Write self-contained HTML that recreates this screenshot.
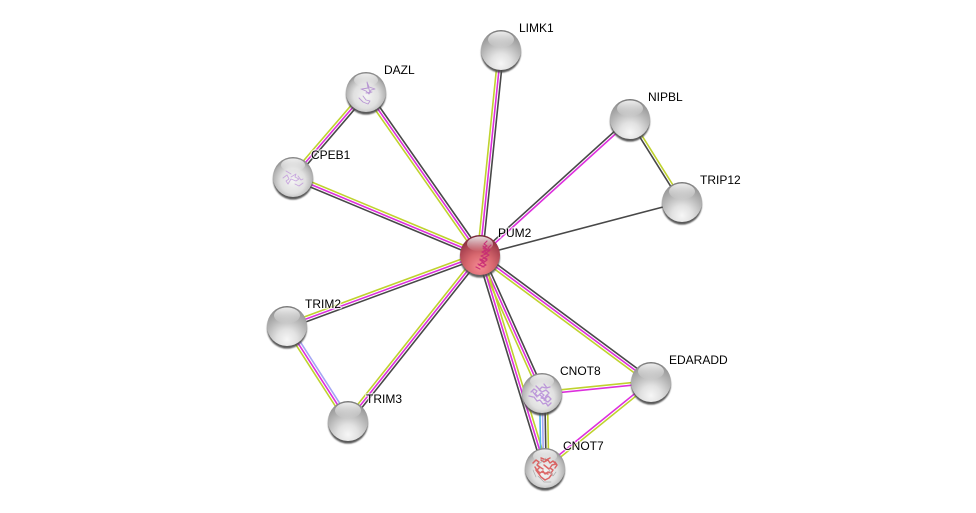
<!DOCTYPE html>
<html><head><meta charset="utf-8"><style>
html,body{margin:0;padding:0;background:#fff}
svg{display:block}
text{font-family:"Liberation Sans",sans-serif;font-size:12px;fill:#000;stroke:#fff;stroke-width:2.5px;stroke-opacity:.65;paint-order:stroke;stroke-linejoin:round}
line{stroke-width:1.6;fill:none}
.y{stroke:#bfd22e}.m{stroke:#dd2fdd}.d{stroke:#484848}.b{stroke:#a5a5f5}.c{stroke:#4fb5e5}
</style></head><body>
<svg width="976" height="513" viewBox="0 0 976 513" xmlns="http://www.w3.org/2000/svg">
<defs>
<radialGradient id="ball" cx="50%" cy="84%" r="84%">
<stop offset="0" stop-color="#f6f6f6"/><stop offset=".3" stop-color="#e2e2e2"/><stop offset=".62" stop-color="#b8b8b8"/><stop offset=".88" stop-color="#9a9a9a"/><stop offset="1" stop-color="#747474"/>
</radialGradient>
<radialGradient id="ballS" cx="50%" cy="60%" r="62%">
<stop offset="0" stop-color="#f4f4f4"/><stop offset=".5" stop-color="#e0e0e0"/><stop offset=".8" stop-color="#b2b2b2"/><stop offset="1" stop-color="#767676"/>
</radialGradient>
<radialGradient id="ballR" cx="50%" cy="80%" r="82%">
<stop offset="0" stop-color="#f58c94"/><stop offset=".4" stop-color="#d8686f"/><stop offset=".75" stop-color="#a84250"/><stop offset="1" stop-color="#6a2232"/>
</radialGradient>
<linearGradient id="hl" x1="0" y1="0" x2="0" y2="1">
<stop offset="0" stop-color="#fff" stop-opacity=".85"/><stop offset="1" stop-color="#fff" stop-opacity="0"/>
</linearGradient>
<filter id="bl" x="-30%" y="-30%" width="160%" height="160%"><feGaussianBlur stdDeviation=".7"/></filter>
<filter id="sf" x="-10%" y="-10%" width="120%" height="120%"><feGaussianBlur stdDeviation=".3"/></filter>
<g id="sh"><circle cx="0" cy="2.6" r="20" fill="#484848" opacity=".9" filter="url(#bl)"/></g>
<g id="n"><use href="#sh"/><circle r="20" fill="url(#ball)"/><ellipse cx="0" cy="-10.5" rx="13" ry="8" fill="url(#hl)"/></g>
<g id="s"><use href="#sh"/><circle r="20" fill="url(#ballS)"/><ellipse cx="0" cy="-12" rx="12" ry="6.5" fill="url(#hl)"/></g>
</defs>

<g transform="translate(480 255) rotate(-84.15)"><line class="y" x2="206" y1="-2.6" y2="-2.6"/><line class="m" x2="206"/><line class="d" x2="206" y1="2.6" y2="2.6"/></g>
<g transform="translate(480 255) rotate(-124.97)"><line class="y" x2="199" y1="-2.6" y2="-2.6"/><line class="m" x2="199"/><line class="d" x2="199" y1="2.6" y2="2.6"/></g>
<g transform="translate(480 255) rotate(-157.36)"><line class="y" x2="203" y1="2.6" y2="2.6"/><line class="m" x2="203"/><line class="d" x2="203" y1="-2.6" y2="-2.6"/></g>
<g transform="translate(480 255) rotate(-42.2)"><line class="d" x2="202" y1="-1.3" y2="-1.3"/><line class="m" x2="202" y1="1.3" y2="1.3"/></g>
<g transform="translate(480 255) rotate(-14.7)"><line class="d" x2="209"/></g>
<g transform="translate(480 255) rotate(159.8)"><line class="y" x2="206" y1="2.6" y2="2.6"/><line class="m" x2="206"/><line class="d" x2="206" y1="-2.6" y2="-2.6"/></g>
<g transform="translate(480 255) rotate(128.5)"><line class="y" x2="212" y1="2.6" y2="2.6"/><line class="m" x2="212"/><line class="d" x2="212" y1="-2.6" y2="-2.6"/></g>
<g transform="translate(480 255) rotate(65.8)"><line class="y" x2="151" y1="2.6" y2="2.6"/><line class="m" x2="151"/><line class="d" x2="151" y1="-2.6" y2="-2.6"/></g>
<g transform="translate(480 255) rotate(73)"><line class="d" x2="223" y1="2.6" y2="2.6"/><line class="m" x2="223"/><line class="y" x2="223" y1="-2.6" y2="-2.6"/></g>
<g transform="translate(480 255) rotate(36.6)"><line class="y" x2="213" y1="2.6" y2="2.6"/><line class="m" x2="213"/><line class="d" x2="213" y1="-2.6" y2="-2.6"/></g>
<g transform="translate(366 92) rotate(130.65)"><line class="y" x2="112" y1="2.6" y2="2.6"/><line class="m" x2="112"/><line class="d" x2="112" y1="-2.6" y2="-2.6"/></g>
<g transform="translate(630 119) rotate(57.9)"><line class="d" x2="98" y1="1.3" y2="1.3"/><line class="y" x2="98" y1="-1.3" y2="-1.3"/></g>
<g transform="translate(287 326) rotate(57.3)"><line class="y" x2="113" y1="2.6" y2="2.6"/><line class="m" x2="113"/><line class="b" x2="113" y1="-2.6" y2="-2.6"/></g>
<g transform="translate(543.5 393) rotate(89)"><line class="c" x2="75" y1="3.9" y2="3.9"/><line class="b" x2="75" y1="1.3" y2="1.3"/><line class="d" x2="75" y1="-1.3" y2="-1.3"/><line class="y" x2="75" y1="-3.9" y2="-3.9"/></g>
<g transform="translate(542 393) rotate(-5.8)"><line class="y" x2="110" y1="-1.3" y2="-1.3"/><line class="m" x2="110" y1="1.3" y2="1.3"/></g>
<g transform="translate(545 468) rotate(-39)"><line class="m" x2="136" y1="-1.3" y2="-1.3"/><line class="y" x2="136" y1="1.3" y2="1.3"/></g>

<use href="#n" x="501" y="50"/>
<use href="#s" x="366" y="92"/>
<use href="#s" x="293" y="177"/>
<use href="#n" x="630" y="119"/>
<use href="#n" x="682" y="202"/>
<use href="#n" x="287" y="326"/>
<use href="#n" x="348" y="421"/>
<use href="#s" x="542" y="393"/>
<use href="#s" x="545" y="468"/>
<use href="#n" x="651" y="382"/>
<g transform="translate(480 255)"><circle cy="2.6" r="20" fill="#484848" opacity=".85" filter="url(#bl)"/><circle r="20" fill="url(#ballR)"/><ellipse cx="0" cy="-11" rx="13" ry="7.5" fill="url(#hl)"/></g>

<g fill="none" stroke-linecap="round" stroke-linejoin="round" filter="url(#sf)">
<path d="M361 89l5 2 3 3 2-4 4-1-6-2-2-5 1 6-6 1M359 98l4 4 5 2 2-3-4-1-3-4M368 85l2 8M372 92l-6 1" stroke="#a87ccc" stroke-width=".9" opacity=".75"/>
<path d="M283 178l4-3 2 4-3 2 2 3 3-5 5 2 3-2-4-2 1-3-5 3M295 184l4 2 4-3M298 176l3 4 2-1M286 171l5 3" stroke="#b98ad8" stroke-width=".9" opacity=".7"/>
<path d="M531 392l3-3 3 2-2 3 3 2 3-3 3 2-3 3 4 1 3-3 3 3-3 3-4-2 2-4 3-3-3-3-4 2-3-2 3-3 4 1 4-1M534 397l3 4 3-1 3 4 3-1 2 3 3-3M529 396l4 1M544 384l3 4M536 386l5 5M540 395l6 5M533 392l4 5" stroke="#b284d6" stroke-width="1.3" opacity=".8"/>
<path d="M533 463l3-3 3 2-2 3 3 2-3 3 3 3 3-2 2 3 3-2 3 1 2-3-3-2 2-3 4-1-3-3-3 2-2-3-4 2-3-2M536 470l3 4 2 3 4 3 4-2 3-4M541 458l5 2 4-2M555 462l2 3-2 3M538 466l5 3M544 465l5 4M535 467l3 5M542 472l6 2" stroke="#d84f4f" stroke-width="1.5" opacity=".85"/>
<path d="M538 476l6 6 7 0M546 458l-7 6M549 470l4 6 3-4M533 470l3 7" stroke="#aaa" stroke-width=".7"/>
<path d="M487 241l-3 3 3 2-4 2 4 2-5 2 4 2-5 2 4 2-5 2 3 2-4 3 3 1M491 245l-3 3 2 2-4 3 3 2-5 3 3 2-4 3 3 2-4 2M483 246l6 5M481 256l6 3M478 264l6 3M484 250l3 4M480 259l4 2M476 267l4 2" stroke="#c62a74" stroke-width="1.2" opacity=".9"/>
</g>

<text x="519" y="32">LIMK1</text>
<text x="384" y="74">DAZL</text>
<text x="311" y="159">CPEB1</text>
<text x="648" y="101">NIPBL</text>
<text x="700" y="184">TRIP12</text>
<text x="498" y="237">PUM2</text>
<text x="305" y="308">TRIM2</text>
<text x="366" y="403">TRIM3</text>
<text x="560" y="375">CNOT8</text>
<text x="563" y="450">CNOT7</text>
<text x="669" y="364">EDARADD</text>
</svg>
</body></html>
